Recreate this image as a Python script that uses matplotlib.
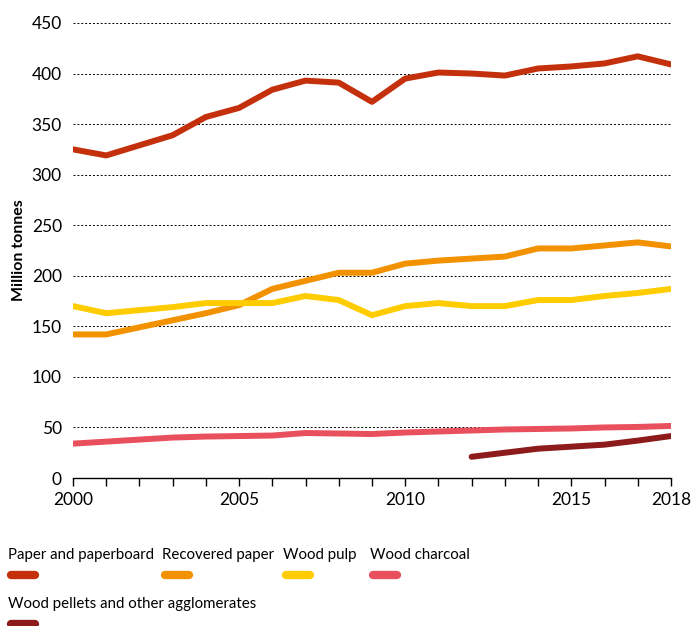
import matplotlib.pyplot as plt
from matplotlib.lines import Line2D

years = list(range(2000, 2019))
paper = [325, 319, 329, 339, 357, 366, 384, 393, 391, 372, 395, 401, 400, 398, 405, 407, 410, 417, 409]
recovered = [142, 142, 149, 156, 163, 171, 187, 195, 203, 203, 212, 215, 217, 219, 227, 227, 230, 233, 229]
pulp = [170, 163, 166, 169, 173, 173, 173, 180, 176, 161, 170, 173, 170, 170, 176, 176, 180, 183, 187]
charcoal = [34, 36, 38, 40, 41, 41.5, 42, 44.5, 44, 43.5, 45, 46, 47, 48, 48.5, 49, 50, 50.5, 51.5]
pellet_years = list(range(2012, 2019))
pellets = [21, 25, 29, 31, 33, 37, 41.5]

names = ["Paper and paperboard", "Recovered paper", "Wood pulp", "Wood charcoal",
         "Wood pellets and other agglomerates"]
colors = ["#C4300C", "#F39200", "#FFCC00", "#E9505D", "#8E1B1B"]

plt.rcParams['font.family'] = ['Lato', 'DejaVu Sans']

fig = plt.figure(figsize=(6.91, 6.26), dpi=100)
ax = fig.add_axes([0.1056, 0.2364, 0.8654, 0.7269])

lw = 4.3
for xs, ys, c in [(years, paper, colors[0]), (years, recovered, colors[1]),
                  (years, pulp, colors[2]), (years, charcoal, colors[3]),
                  (pellet_years, pellets, colors[4])]:
    ax.plot(xs, ys, color=c, lw=lw, solid_capstyle="round", solid_joinstyle="round")

ax.set_xlim(2000, 2018)
ax.set_ylim(0, 450)
ax.set_yticks(range(0, 451, 50))
ax.set_xticks([2000, 2005, 2010, 2015, 2018])
ax.set_xticks(years, minor=True)
ax.tick_params(axis="y", length=0, labelsize=12.5, pad=8)
ax.tick_params(axis="x", which="both", length=6, width=1, direction="out", labelsize=12.5, pad=4)
for s in ["left", "right", "top"]:
    ax.spines[s].set_visible(False)
ax.spines["bottom"].set_linewidth(1)
ax.grid(axis="y", linestyle=(0, (2, 2)), color="black", linewidth=0.7)
ax.set_axisbelow(True)
ax.set_ylabel("Million tonnes", fontsize=11.5, fontweight="bold", labelpad=4)

# legend built by hand
W, H = 691, 626
items = [(0, 8, 555), (1, 162, 555), (2, 283, 555), (3, 370, 555), (4, 8, 604)]
for i, x, y in items:
    fig.text(x / W, 1 - y / H, names[i], fontsize=10.8, va="center", ha="left")
    fig.add_artist(Line2D([(x + 3) / W, (x + 27) / W], [1 - (y + 20) / H] * 2,
                          color=colors[i], lw=6, solid_capstyle="round",
                          transform=fig.transFigure))

fig.savefig("out.png", dpi=100)
